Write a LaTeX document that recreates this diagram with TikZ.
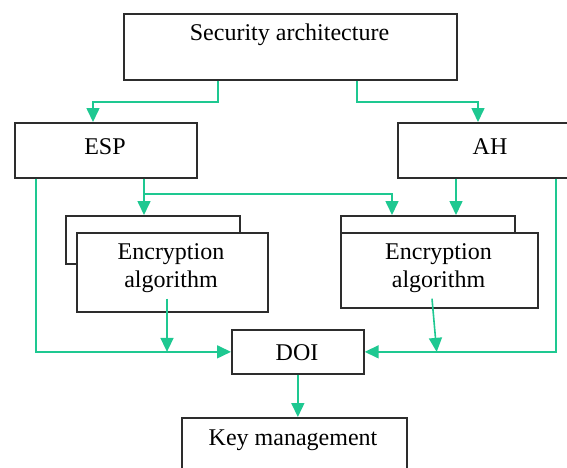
\documentclass[tikz,border=0pt]{standalone}
\usepackage{fontspec}
\setmainfont{Liberation Serif}
\usetikzlibrary{arrows.meta,calc}
\definecolor{conncol}{RGB}{30,200,145}
\definecolor{boxcol}{RGB}{45,45,45}
\tikzset{
  box/.style={draw=boxcol, line width=1.7pt, fill=white, rectangle, inner sep=0pt, anchor=north west},
  lbl/.style={inner sep=0pt, font=\fontsize{24}{28}\selectfont, text=black, align=center},
  conn/.style={draw=conncol, line width=1.6pt, -{Triangle[width=13pt,length=14pt]}}
}
\begin{document}
\begin{tikzpicture}[x=1pt,y=-1pt]
\useasboundingbox (0,0) rectangle (567,467);
\clip (0,0) rectangle (567,467);
\fill[white] (0,0) rectangle (567,467);
% boxes
\node[box, minimum width=333pt, minimum height=66pt] (top) at (123,13) {};
\node[lbl] (toptext) at (289.5,35) {Security architecture};
\node[box, minimum width=182pt, minimum height=55pt] (esp) at (14,122) {};
\node[lbl] (esptext) at (105,147) {ESP};
\node[box, minimum width=186pt, minimum height=55pt] (ah) at (397,122) {};
\node[lbl] (ahtext) at (490,147) {AH};
\node[box, minimum width=174pt, minimum height=48pt] (encLb) at (65,215) {};
\node[box, minimum width=191pt, minimum height=79pt] (encL) at (76,232) {};
\node[lbl] (encLtext) at (171,268) {Encryption\\algorithm};
\node[box, minimum width=174pt, minimum height=40pt] (encRb) at (340,215) {};
\node[box, minimum width=197pt, minimum height=75pt] (encR) at (340,232) {};
\node[lbl] (encRtext) at (438.5,268) {Encryption\\algorithm};
\node[box, minimum width=132pt, minimum height=44pt] (doi) at (231,329) {};
\node[lbl] (doitext) at (297,353) {DOI};
\node[box, minimum width=225pt, minimum height=70pt] (key) at (181,417) {};
\node[lbl] (keytext) at (293,440) {Key management};
% connectors
\draw[conn] ([xshift=95pt]top.south west) -- ++(0,21) -| ([xshift=79pt]esp.north west);
\draw[conn] ([xshift=-101pt]top.south east) -- ++(0,21) -| ([xshift=81pt]ah.north west);
\draw[conn] ([xshift=22pt]esp.south west) |- (doi.west);
\coordinate (espb) at ([xshift=130pt]esp.south west);
\draw[conn] (espb) -- (espb |- encLb.north);
\draw[conn] ($(espb)+(0,15)$) -| ([xshift=52pt]encRb.north west);
\coordinate (ahb) at ([xshift=59pt]ah.south west);
\draw[conn] (ahb) -- (ahb |- encRb.north);
\draw[conn] ([xshift=159pt]ah.south west) |- (doi.east);
\coordinate (encLo) at ([xshift=91pt,yshift=14pt]encL.south west);
\draw[conn] (encLo) -- (encLo |- doi.west);
\coordinate (encRo) at ([xshift=92pt,yshift=10pt]encR.south west);
\draw[conn] (encRo) -- ($(doi.east)+(72,0)$);
\draw[conn] (doi.south) -- (doi.south |- key.north);
\end{tikzpicture}
\end{document}
